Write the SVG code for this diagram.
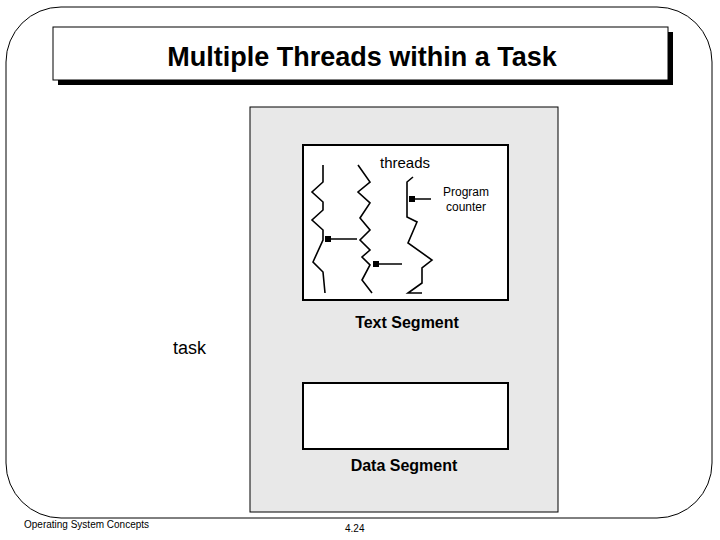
<svg xmlns="http://www.w3.org/2000/svg" width="720" height="540" viewBox="0 0 720 540">
<style>
text{font-family:"Liberation Sans",Arial,sans-serif;fill:#000}
.th{fill:none;stroke:#000;stroke-width:1.6}
.ar{stroke:#000;stroke-width:1.5}
</style>
<defs><marker id="sq" markerWidth="6" markerHeight="6" refX="3" refY="3" markerUnits="userSpaceOnUse"><rect x="0" y="0" width="6" height="6" fill="#000"/></marker></defs>
<rect width="720" height="540" fill="#fff"/>
<rect x="6" y="7" width="706" height="511" rx="55" fill="#fff" stroke="#000"/>
<g id="title">
<rect x="58" y="32" width="615" height="53" fill="#000"/>
<rect x="53" y="27" width="615" height="53" fill="#fff" stroke="#000"/>
<text x="362" y="66" font-size="27" font-weight="bold" text-anchor="middle">Multiple Threads within a Task</text>
</g>
<g id="task">
<rect x="250" y="107" width="308" height="405" fill="#e8e8e8" stroke="#000"/>
<text x="173" y="354" font-size="18">task</text>
</g>
<g id="text-segment">
<rect x="303" y="145" width="205" height="155" fill="#fff" stroke="#000" stroke-width="2"/>
<text x="405" y="168" font-size="15" text-anchor="middle">threads</text>
<text x="466" y="196" font-size="12" text-anchor="middle">Program</text>
<text x="466" y="211" font-size="12" text-anchor="middle">counter</text>
<text x="407" y="328" font-size="16" font-weight="bold" text-anchor="middle">Text Segment</text>
<polyline class="th" points="323,165 323,182 312,192 323,202 323,210 312,220 323,230 323,240 313,262 323,272 325,293"/>
<polyline class="th" points="358,165 370,182 358,192 370,203 360,218 370,230 360,240 370,250 362,257 370,265 362,280 372,293"/>
<polyline class="th" points="413,177 407,182 407,217 417,222 408,243 432,260 422,268 422,283 408,293 422,293"/>
</g>
<g id="connectors">
<line class="ar" x1="357" y1="239" x2="328" y2="239" marker-end="url(#sq)"/>
<line class="ar" x1="402" y1="264" x2="376" y2="264" marker-end="url(#sq)"/>
<line class="ar" x1="431" y1="199" x2="412" y2="199" marker-end="url(#sq)"/>
</g>
<g id="data-segment">
<rect x="303" y="383" width="205" height="66" fill="#fff" stroke="#000" stroke-width="2"/>
<text x="404" y="471" font-size="16" font-weight="bold" text-anchor="middle">Data Segment</text>
</g>
<text x="24" y="528" font-size="10">Operating System Concepts</text>
<text x="345" y="532" font-size="10">4.24</text>
</svg>
